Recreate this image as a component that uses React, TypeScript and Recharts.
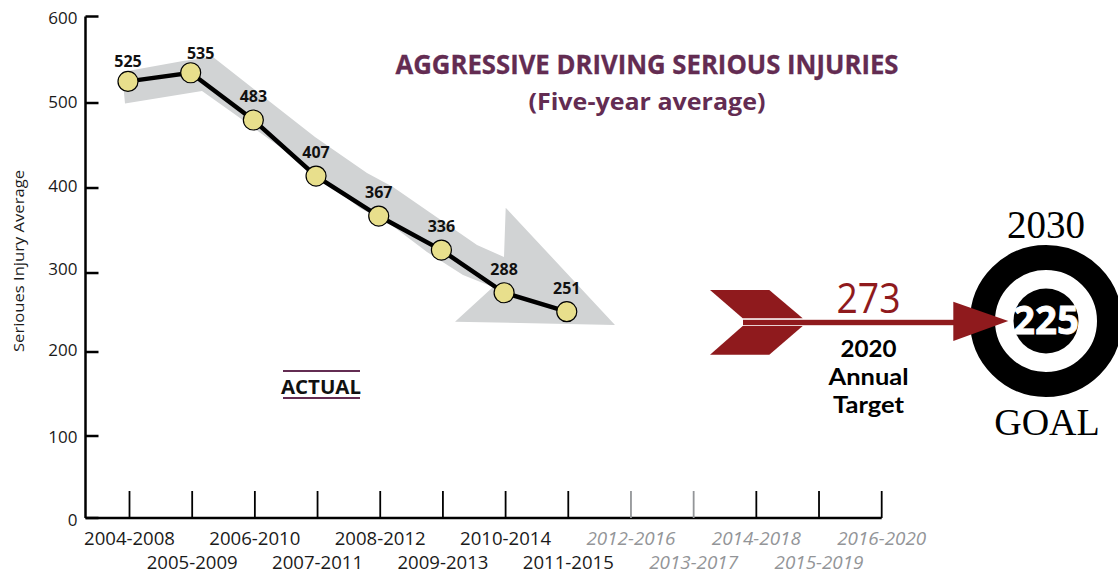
import { Line, LineChart, XAxis, YAxis } from "recharts";

const periods = [
  "2004-2008", "2005-2009", "2006-2010", "2007-2011", "2008-2012", "2009-2013", "2010-2014",
  "2011-2015", "2012-2016", "2013-2017", "2014-2018", "2015-2019", "2016-2020",
];
// Printed labels, and the heights the markers actually sit at against the axis
// (the source artwork is hand placed, so a few markers sit off their labels).
const printedValues = [525, 535, 483, 407, 367, 336, 288, 251];
const drawnValues = [525, 535, 480, 414, 367, 327, 275, 251];
const yTicks = [0, 100, 200, 300, 400, 500, 600];
// The hand drawn axis is not evenly spaced: where each tick falls, 0 = bottom, 1 = top.
const yTickPlaces = [0, 0.1635, 0.331, 0.4885, 0.658, 0.8275, 1];
// The labels are evenly spaced though, so each one has its own baseline shift.
const yLabelShifts = [8, 7, 4, 2, 4, 5, 7];
const FIRST_PROJECTED = 8;

const target2020 = 273;
const goal2030 = 225;

const table = periods.map((period, i) => ({ period, injuries: drawnValues[i] ?? null }));

const SANS = "'Open Sans', sans-serif";
const SERIF = "'Liberation Serif', serif";
const PURPLE = "#632c52";
const RED = "#8f1a1d";
const GREY_TEXT = "#939598";

function handDrawnScale() {
  let domain = [0, 600];
  let range = [0, 1];
  const scale: any = (v: number) => {
    let i = 0;
    while (i < yTicks.length - 2 && v > yTicks[i + 1]) i++;
    const t = (v - yTicks[i]) / (yTicks[i + 1] - yTicks[i]);
    const place = yTickPlaces[i] + t * (yTickPlaces[i + 1] - yTickPlaces[i]);
    return range[0] + place * (range[1] - range[0]);
  };
  scale.domain = (d?: number[]) => {
    if (!d) return domain;
    domain = d;
    return scale;
  };
  scale.range = (r?: number[]) => {
    if (!r) return range;
    range = r;
    return scale;
  };
  scale.copy = () => handDrawnScale().domain(domain).range(range);
  scale.ticks = () => yTicks;
  return scale;
}

function YTick({ x, y, payload, index }: any) {
  return (
    <g>
      <line x1={x} x2={x + 13} y1={y} y2={y} stroke="#000" strokeWidth={2.5} />
      <text x={x - 8} y={y + yLabelShifts[index]} textAnchor="end" fontFamily={SANS} fontSize={17} fill="#1a1a1a">
        {payload.value}
      </text>
    </g>
  );
}

function XTick({ x, y, payload, index }: any) {
  const projected = index >= FIRST_PROJECTED;
  return (
    <g>
      <line x1={x} x2={x} y1={y - 27} y2={y} stroke={index === 8 || index === 9 ? GREY_TEXT : "#000"} strokeWidth={1.8} />
      <text
        x={x}
        y={y + (index % 2 === 0 ? 27 : 51)}
        textAnchor="middle"
        fontFamily={SANS}
        fontSize={18}
        fontStyle={projected ? "italic" : "normal"}
        fill={projected ? GREY_TEXT : "#1a1a1a"}
        textLength={projected ? 89 : 91}
        lengthAdjust="spacingAndGlyphs"
      >
        {payload.value}
      </text>
    </g>
  );
}

function ValueLabel({ x, y, index }: any) {
  return (
    <text
      x={index === 1 ? x + 10 : x}
      y={y - (index < 2 ? 14 : 18)}
      textAnchor="middle"
      fontFamily={SANS}
      fontWeight={700}
      fontSize={16}
      fill="#111"
    >
      {printedValues[index]}
    </text>
  );
}

function TargetLine({ y, width, children }: any) {
  return (
    <text x={868.5} y={y} textAnchor="middle" fontFamily="Lato, sans-serif" fontWeight={700} fontSize={23} fill="#000" textLength={width} lengthAdjust="spacingAndGlyphs">
      {children}
    </text>
  );
}

function Artwork() {
  return (
    <svg width={1118} height={573} style={{ position: "absolute", left: 0, top: 0 }}>
      {/* grey trend arrow behind the line */}
      <polygon
        fill="#d1d3d4"
        points="125,103.5 122,72 183,61 213,57 315,137 367,173 393,187 477,245 504,257 505.7,207.7 615,325 455,321.7 493,287 463,275 427,252 390,224 360,208 287,152 233,113 202,91"
      />

      <text x={647} y={74} textAnchor="middle" fontFamily={SANS} fontWeight={700} fontSize={26} fill={PURPLE} stroke={PURPLE} strokeWidth={0.3} textLength={503} lengthAdjust="spacingAndGlyphs">
        AGGRESSIVE DRIVING SERIOUS INJURIES
      </text>
      <text x={647} y={110} textAnchor="middle" fontFamily={SANS} fontWeight={700} fontSize={24} fill={PURPLE} textLength={237} lengthAdjust="spacingAndGlyphs">
        (Five-year average)
      </text>

      <text x={24} y={261} textAnchor="middle" transform="rotate(-90 24 261)" fontFamily={SANS} fontSize={15} fill="#1a1a1a" textLength={182} lengthAdjust="spacingAndGlyphs">
        Serioues Injury Average
      </text>

      <line x1={283} x2={360} y1={371} y2={371} stroke={PURPLE} strokeWidth={2} />
      <text x={321} y={394} textAnchor="middle" fontFamily={SANS} fontWeight={700} fontSize={20} fill="#111" textLength={80} lengthAdjust="spacingAndGlyphs">
        ACTUAL
      </text>
      <line x1={283} x2={360} y1={398} y2={398} stroke={PURPLE} strokeWidth={2} />

      {/* target arrow */}
      <polygon fill={RED} points="710,290 769.3,290 802.7,318.3 742.7,318.3" />
      <polygon fill={RED} points="742.7,326 802.7,326 769.3,354.7 710,354.7" />
      <rect x={743} y={319.8} width={215} height={5.4} fill={RED} />
      <text x={868.5} y={312.7} textAnchor="middle" fontFamily={SANS} fontSize={42} fill={RED} textLength={64} lengthAdjust="spacingAndGlyphs">
        {target2020}
      </text>
      <TargetLine y={356.7} width={56}>2020</TargetLine>
      <TargetLine y={385} width={80}>Annual</TargetLine>
      <TargetLine y={412.7} width={71}>Target</TargetLine>

      {/* 2030 goal bullseye, the arrow point lies over the outer ring */}
      <circle cx={1046} cy={321} r={63.5} fill="none" stroke="#000" strokeWidth={25} />
      <circle cx={1046} cy={321} r={32.5} fill="#000" />
      <polygon fill={RED} points="953.3,301.7 1008.3,321 953.3,341" />
      <text x={1046} y={334} textAnchor="middle" fontFamily={SANS} fontWeight={700} fontSize={39} fill="#fff" stroke="#fff" strokeWidth={0.8} textLength={66} lengthAdjust="spacingAndGlyphs">
        {goal2030}
      </text>
      <text x={1046} y={238} textAnchor="middle" fontFamily={SERIF} fontSize={39} fill="#000">
        2030
      </text>
      <text x={1047} y={435} textAnchor="middle" fontFamily={SERIF} fontSize={38} fill="#000">
        GOAL
      </text>
    </svg>
  );
}

export default function App() {
  return (
    <div style={{ position: "absolute", left: 0, top: 0, width: 1118, height: 573, overflow: "hidden", background: "#fff" }}>
      <Artwork />
      <div style={{ position: "absolute", left: 0, top: 0 }}>
        <LineChart width={1118} height={573} data={table} margin={{ top: 16.5, right: 236.3, bottom: 0, left: 25.5 }}>
          <XAxis
            dataKey="period"
            scale="point"
            padding={{ left: 44, right: 0 }}
            height={55}
            interval={0}
            tickSize={0}
            tickMargin={0}
            tickLine={false}
            axisLine={{ stroke: "#000", strokeWidth: 2.5 }}
            tick={<XTick />}
          />
          {/* markers sit a touch left of their ticks in the source */}
          <XAxis xAxisId="markers" dataKey="period" scale="point" padding={{ left: 42.5, right: 1.5 }} height={0} hide />
          <YAxis
            type="number"
            scale={handDrawnScale()}
            domain={[0, 600]}
            ticks={yTicks}
            width={60}
            interval={0}
            tickSize={0}
            tickMargin={0}
            tickLine={false}
            axisLine={{ stroke: "#000", strokeWidth: 2.5 }}
            tick={<YTick />}
          />
          <Line
            xAxisId="markers"
            dataKey="injuries"
            type="linear"
            stroke="#000"
            strokeWidth={4.5}
            dot={{ r: 10, fill: "#e8df8c", stroke: "#000", strokeWidth: 1.2, fillOpacity: 1 }}
            label={<ValueLabel />}
            connectNulls={false}
            isAnimationActive={false}
          />
        </LineChart>
      </div>
    </div>
  );
}
